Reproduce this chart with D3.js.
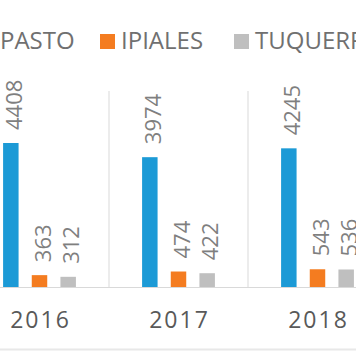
<!DOCTYPE html>
<html>
<head>
<meta charset="utf-8">
<script src="https://cdn.jsdelivr.net/npm/d3@7"></script>
<style>
  html, body { margin: 0; padding: 0; background: #fff; }
  svg { display: block; }
  text { font-family: "Open Sans", "Noto Sans", sans-serif; }
</style>
</head>
<body>
<script>
const years = ["2016", "2017", "2018"];
const seriesNames = ["PASTO", "IPIALES", "TUQUERRES"];
const pasto = [4408, 3974, 4245];
const ipiales = [363, 474, 543];
const tuquerres = [312, 422, 536];
const seriesColors = ["#1C9AD6", "#F47C20", "#BFBFBF"];

const W = 356, H = 364;
const svg = d3.select("body").append("svg").attr("width", W).attr("height", H);
svg.append("rect").attr("width", W).attr("height", H).attr("fill", "#fff");

const baseY = 287, topY = 91;
const y = d3.scaleLinear().domain([0, 6000]).range([baseY, topY]);
const x0 = d3.scaleBand().domain(years).range([-30, 387]).padding(0);
const x1 = d3.scaleBand().domain(seriesNames).range([26.5, 112.5]).paddingInner(0.46).paddingOuter(0.23);

const values = [pasto, ipiales, tuquerres];
const data = [];
years.forEach((yr, i) => seriesNames.forEach((s, j) => data.push({ year: yr, series: s, value: values[j][i], color: seriesColors[j] })));

// vertical category separators
const seps = years.map(yr => x0(yr)).concat([x0("2018") + x0.step()]);
svg.append("g").selectAll("line").data(seps).join("line")
  .attr("x1", d => d).attr("x2", d => d)
  .attr("y1", topY).attr("y2", baseY)
  .attr("stroke", "#D9D9D9").attr("stroke-width", 1);

// bars
svg.append("g").selectAll("rect").data(data).join("rect")
  .attr("x", d => x0(d.year) + x1(d.series))
  .attr("y", d => y(d.value))
  .attr("width", x1.bandwidth())
  .attr("height", d => y(0) - y(d.value))
  .attr("fill", d => d.color);

// value labels
svg.append("g").selectAll("text").data(data).join("text")
  .attr("transform", d => {
    const cx = x0(d.year) + x1(d.series) + x1.bandwidth() / 2 + 11;
    const cy = y(d.value) - 13;
    return `translate(${cx},${cy}) rotate(-90)`;
  })
  .attr("font-size", 22)
  .attr("fill", "#7F7F7F")
  .text(d => d.value);

// baseline axis
const xAxis = d3.axisBottom(x0).tickSize(0).tickPadding(0);
const ax = svg.append("g").attr("transform", `translate(0,${baseY})`).call(xAxis);
ax.select(".domain").attr("stroke", "#D9D9D9").attr("d", `M0,0.5H${W}`);
ax.selectAll(".tick text")
  .attr("y", 41)
  .attr("dy", null)
  .attr("dx", 1)
  .attr("font-size", 23)
  .attr("font-family", "Open Sans")
  .attr("letter-spacing", 2)
  .attr("fill", "#595959");

// bottom border line
svg.append("line").attr("x1", 0).attr("x2", W).attr("y1", 349.5).attr("y2", 349.5)
  .attr("stroke", "#E8E8E8").attr("stroke-width", 2);

// legend
const legendX = [0, 121, 255];
const lg = svg.append("g").selectAll("g").data(seriesNames).join("g")
  .attr("transform", (d, i) => `translate(${legendX[i]},0)`);
lg.append("rect").attr("x", -21).attr("y", 34).attr("width", 15).attr("height", 15)
  .attr("fill", (d, i) => seriesColors[i]);
lg.append("text").attr("x", 0).attr("y", 49).attr("font-size", 24).attr("fill", "#707070").text(d => d);
</script>
</body>
</html>
